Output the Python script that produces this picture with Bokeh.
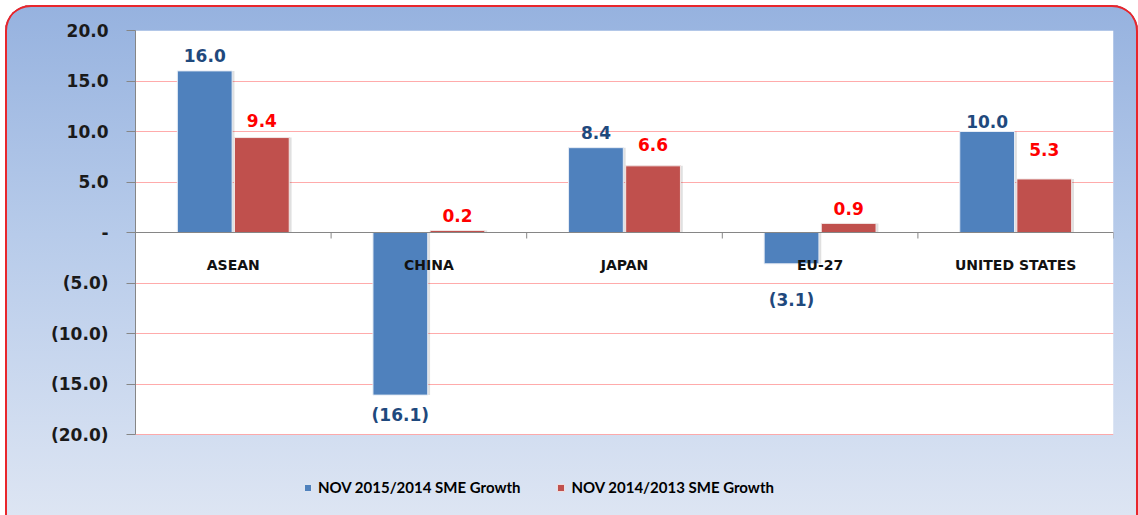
from bokeh.plotting import figure
from bokeh.models import (ColumnDataSource, Range1d, FactorRange, FixedTicker, CustomJSTickFormatter,
                          Span, Legend, LegendItem, BoxAnnotation)
from bokeh.transform import dodge
from bokeh.core.properties import value
from bokeh.embed import file_html
from bokeh.resources import INLINE

# ---- data ----
categories = ["ASEAN", "CHINA", "JAPAN", "EU-27", "UNITED STATES"]
growth_2015_2014 = [16.0, -16.1, 8.4, -3.1, 10.0]
growth_2014_2013 = [9.4, 0.2, 6.6, 0.9, 5.3]
series_names = ["NOV 2015/2014 SME Growth", "NOV 2014/2013 SME Growth"]
y_ticks = [-20, -15, -10, -5, 0, 5, 10, 15, 20]

# ---- styles ----
BLUE = "#4F81BD"
RED = "#C0504D"
BLUE_TXT = "#1F497D"
RED_TXT = "#FF0000"
GRID = "#FF9C9C"
AXIS = "#868686"
# label offsets (screen px beyond the bar end) per series
label_gap_1 = [9, 10, 9, 26, 4]
label_gap_2 = [11, 8, 15, 8, 23]


def fmt(v):
    return "(%.1f)" % abs(v) if v < 0 else "%.1f" % v


def offsets(vals, gaps):
    return [-g if v >= 0 else g for v, g in zip(vals, gaps)]


src = ColumnDataSource(dict(
    cat=categories,
    v1=growth_2015_2014,
    v2=growth_2014_2013,
    t1=[fmt(v) for v in growth_2015_2014],
    t2=[fmt(v) for v in growth_2014_2013],
    b1=["bottom" if v >= 0 else "top" for v in growth_2015_2014],
    b2=["bottom" if v >= 0 else "top" for v in growth_2014_2013],
    o1=offsets(growth_2015_2014, label_gap_1),
    o2=offsets(growth_2014_2013, label_gap_2),
))

# frame: 480px tall, 10.1 px per unit -> extra room below -20 for the legend
y_top = max(y_ticks)
y_bottom = y_top - 480 / 10.1

p = figure(width=1133, height=510, x_range=FactorRange(factors=categories),
           y_range=Range1d(y_bottom, y_top), output_backend="svg", toolbar_location=None,
           min_border_left=130, min_border_top=25, min_border_right=25, min_border_bottom=5)

p.border_fill_color = None
p.background_fill_color = None
p.outline_line_color = None
p.styles = {
    "margin-left": "5px",
    "margin-top": "5px",
    "background": "linear-gradient(to bottom, #96B2DF 0%, #B7CBEA 45%, #DDE5F3 100%)",
    "border-radius": "26px 26px 0 0",
    "box-shadow": "inset 2px 0 0 0 #E8262C, inset -2px 0 0 0 #E8262C, inset 0 2px 0 0 #E8262C",
}

# white plot area between the outer ticks
p.add_layout(BoxAnnotation(bottom=min(y_ticks), top=max(y_ticks), fill_color="white",
                           fill_alpha=1, line_color=None, level="image"))

# axes
p.xaxis.visible = False
p.xgrid.visible = False
yax = p.yaxis[0]
yax.bounds = (min(y_ticks), max(y_ticks))
yax.ticker = FixedTicker(ticks=y_ticks)
yax.formatter = CustomJSTickFormatter(code="""
if (Math.abs(tick) < 1e-9) { return '-'; }
if (tick < 0) { return '(' + (-tick).toFixed(1) + ')'; }
return tick.toFixed(1);
""")
yax.axis_line_color = AXIS
yax.major_tick_line_color = AXIS
yax.major_tick_in = 0
yax.major_tick_out = 9
yax.minor_tick_line_color = None
yax.major_label_standoff = 18
yax.major_label_text_font = "DejaVu Sans"
yax.major_label_text_font_style = "bold"
yax.major_label_text_font_size = "17px"
yax.major_label_text_color = "#1A1A1A"
p.ygrid.ticker = FixedTicker(ticks=y_ticks)
p.ygrid.grid_line_color = GRID
p.ygrid.grid_line_width = 1
p.ygrid.grid_line_alpha = 0.85

W = 0.28
D = 0.146
# soft shadows
p.vbar(x=dodge("cat", -D + 0.012, range=p.x_range), top="v1", bottom=0, width=W, source=src,
       fill_color="black", fill_alpha=0.12, line_color=None)
p.vbar(x=dodge("cat", D + 0.012, range=p.x_range), top="v2", bottom=0, width=W, source=src,
       fill_color="black", fill_alpha=0.12, line_color=None)
r1 = p.vbar(x=dodge("cat", -D, range=p.x_range), top="v1", bottom=0, width=W, source=src,
            fill_color=BLUE, line_color="#E6ECF5", line_width=1)
r2 = p.vbar(x=dodge("cat", D, range=p.x_range), top="v2", bottom=0, width=W, source=src,
            fill_color=RED, line_color="#F2E6E6", line_width=1)

# zero axis line and category boundary ticks
p.add_layout(Span(location=0, dimension="width", line_color=AXIS, line_width=1.2))
p.ray(x=dodge("cat", -0.5, range=p.x_range), y=0, length=6, length_units="screen",
      angle=-1.5707963, source=src, line_color=AXIS, line_width=1)
p.ray(x=dodge("cat", 0.5, range=p.x_range), y=0, length=6, length_units="screen",
      angle=-1.5707963, source=ColumnDataSource(dict(cat=categories[-1:])), line_color=AXIS, line_width=1)

# category labels
p.text(x="cat", y=0, text="cat", source=src, y_offset=32, text_align="center",
       text_baseline="middle", text_font=value("DejaVu Sans"), text_font_style="bold",
       text_font_size="14px", text_color="#111111")

# value labels
p.text(x=dodge("cat", -D, range=p.x_range), y="v1", text="t1", source=src, y_offset="o1",
       text_align="center", text_baseline="b1", text_font=value("DejaVu Sans"),
       text_font_style="bold", text_font_size="17px", text_color=BLUE_TXT)
p.text(x=dodge("cat", D, range=p.x_range), y="v2", text="t2", source=src, y_offset="o2",
       text_align="center", text_baseline="b2", text_font=value("DejaVu Sans"),
       text_font_style="bold", text_font_size="17px", text_color=RED_TXT)

legend = Legend(items=[LegendItem(label=series_names[0], renderers=[r1]),
                       LegendItem(label=series_names[1], renderers=[r2])],
                orientation="horizontal", location=(168, 14))
legend.background_fill_alpha = 0
legend.border_line_color = None
legend.padding = 0
legend.margin = 0
legend.spacing = 36
legend.glyph_width = 9
legend.glyph_height = 9
legend.label_standoff = 6
legend.label_text_font = "Lato"
legend.label_text_font_style = "bold"
legend.label_text_font_size = "15px"
legend.label_text_color = "#000000"
p.add_layout(legend, "center")

open("out.html", "w").write(file_html(p, INLINE))
